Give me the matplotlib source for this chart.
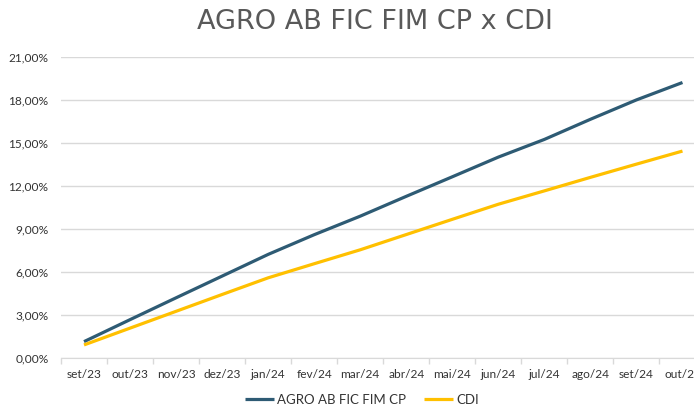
import matplotlib.pyplot as plt
import numpy as np
from matplotlib.ticker import FuncFormatter

months = ['set/23', 'out/23', 'nov/23', 'dez/23', 'jan/24', 'fev/24', 'mar/24',
          'abr/24', 'mai/24', 'jun/24', 'jul/24', 'ago/24', 'set/24', 'out/24']
agro = [1.16, 2.69, 4.21, 5.72, 7.23, 8.60, 9.89, 11.27, 12.63, 14.00, 15.23, 16.63, 17.98, 19.19]
cdi = [0.93, 2.10, 3.27, 4.44, 5.60, 6.58, 7.55, 8.61, 9.67, 10.72, 11.65, 12.59, 13.51, 14.42]

plt.rcParams['font.family'] = ['Lato', 'DejaVu Sans']

fig = plt.figure(figsize=(6.94, 4.08), dpi=100)
# right edge runs past the canvas, the source image is cropped there
ax = fig.add_axes([61 / 694, 49.7 / 408, 644.5 / 694, 301.8 / 408])

x = np.arange(len(months))
ax.plot(x, agro, color='#2E5B74', lw=2.3, label='AGRO AB FIC FIM CP', solid_capstyle='butt')
ax.plot(x, cdi, color='#FFC000', lw=2.3, label='CDI', solid_capstyle='butt')

ax.set_xlim(-0.5, len(months) - 0.5)
ax.set_ylim(0, 21)
ax.set_yticks(np.arange(0, 22, 3))
ax.yaxis.set_major_formatter(FuncFormatter(lambda v, p: f'{v:.2f}%'.replace('.', ',')))
ax.grid(axis='y', color='#D9D9D9', lw=1)
ax.set_axisbelow(True)

ax.set_xticks(x)
ax.set_xticklabels(months)
ax.set_xticks(np.arange(-0.5, len(months), 1), minor=True)
ax.tick_params(axis='x', which='major', length=0, pad=8, labelsize=8.6, labelcolor='#333333')
ax.tick_params(axis='x', which='minor', length=4, color='#D9D9D9', width=1)
ax.tick_params(axis='y', length=0, pad=9, labelsize=8.6, labelcolor='#333333')

for s in ['top', 'right', 'left']:
    ax.spines[s].set_visible(False)
ax.spines['bottom'].set_color('#D9D9D9')

fig.text(375 / 694, 1 - 22 / 408, 'AGRO AB FIC FIM CP x CDI', ha='center', va='center',
         fontsize=19.5, color='#595959', family=['DejaVu Sans'])

fig.legend(loc='center', bbox_to_anchor=(362 / 694, 1 - 400 / 408), ncol=2, frameon=False,
           fontsize=9.5, handlelength=2.2, handletextpad=0.2, columnspacing=1.4,
           labelcolor='#333333')

fig.savefig('out.png', dpi=100)
